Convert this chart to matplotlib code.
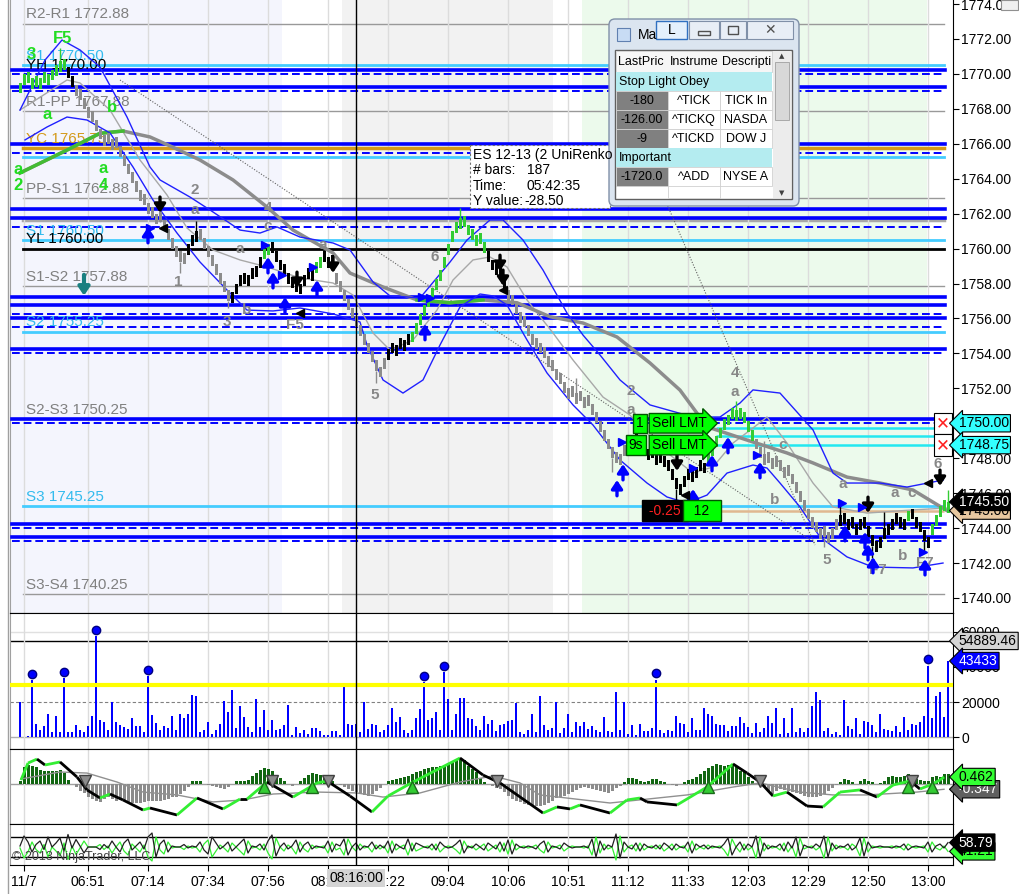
import numpy as np
import matplotlib.pyplot as plt
from matplotlib.collections import LineCollection
from matplotlib.patches import Rectangle, FancyBboxPatch

plt.rcParams['font.family'] = ['Liberation Sans', 'DejaVu Sans']

W, H = 1019, 894

# ---- price bars (UniRenko closes, one per bar) ----
closes = [
    1769.5, 1770.0, 1769.5, 1769.75, 1769.25, 1769.75, 1769.5, 1770.0, 1770.25, 1770.5,
    1770.75, 1770.25, 1769.75, 1769.25, 1768.75, 1768.5, 1768.0, 1767.5, 1767.25, 1766.75,
    1766.25, 1766.5, 1766.0, 1766.25, 1765.75, 1765.25, 1764.75, 1764.25, 1763.75, 1763.25,
    1762.75, 1762.5, 1762.0, 1761.75, 1762.0, 1761.5, 1761.0, 1760.5, 1760.0, 1759.5,
    1759.25, 1759.75, 1760.25, 1760.75, 1761.0, 1760.5, 1760.0, 1759.5, 1759.0, 1758.5,
    1758.0, 1757.5, 1757.0, 1757.5, 1758.0, 1758.5, 1758.0, 1758.5, 1758.25, 1759.0,
    1759.5, 1760.0, 1760.25, 1759.75, 1759.25, 1758.75, 1758.5, 1758.0, 1757.75, 1757.5,
    1758.0, 1758.5, 1758.25, 1758.75, 1759.25, 1759.5, 1759.25, 1759.5, 1759.0, 1758.0,
    1757.5, 1757.0, 1756.5, 1756.0, 1755.5, 1755.0, 1754.5, 1754.0, 1753.5, 1753.0,
    1753.25, 1753.75, 1754.25, 1754.0, 1754.5, 1754.25, 1754.75, 1754.5, 1755.25, 1755.75,
    1756.25, 1756.75, 1757.25, 1757.75, 1758.25, 1758.75, 1759.5, 1760.25, 1761.0, 1761.5,
    1761.75, 1761.25, 1760.75, 1760.5, 1760.75, 1760.25, 1759.75, 1759.25, 1758.75, 1758.5,
    1758.25, 1757.75, 1757.0, 1756.75, 1756.25, 1755.75, 1755.5, 1755.0, 1754.5, 1754.25,
    1754.0, 1753.75, 1753.25, 1753.0, 1752.5, 1752.25, 1751.75, 1752.0, 1751.5, 1751.75,
    1751.25, 1751.5, 1751.0, 1750.5, 1750.0, 1749.5, 1749.0, 1748.5, 1748.0, 1747.75,
    1748.25, 1748.75, 1749.0, 1749.25, 1748.75, 1748.5, 1748.25, 1748.5, 1748.0, 1748.25,
    1747.75, 1747.5, 1747.25, 1746.75, 1746.25, 1746.5, 1747.0, 1746.75, 1747.25, 1747.5,
    1747.25, 1747.75, 1748.25, 1748.75, 1749.25, 1749.75, 1750.25, 1750.5, 1750.25, 1750.75,
    1750.25, 1750.0, 1749.5, 1749.0, 1748.5, 1748.0, 1748.25, 1747.75, 1748.0, 1747.5,
    1747.25, 1747.5, 1747.0, 1746.5, 1746.0, 1745.5, 1745.0, 1744.5, 1744.0, 1743.75,
    1744.0, 1743.5, 1743.75, 1744.0, 1744.5, 1744.75, 1744.25, 1744.5, 1744.0, 1744.25,
    1744.5, 1744.0, 1743.5, 1743.0, 1743.25, 1743.5, 1744.0, 1744.25, 1744.5, 1744.25,
    1744.0, 1744.5, 1745.0, 1744.5, 1744.0, 1743.75, 1743.25, 1743.5, 1744.25, 1744.75,
    1745.25, 1745.0, 1745.5,
]
# g = trend up (green), k = counter trend (black), s = trend down (gray)
bar_kind = ('g' * 12 + 'k' * 2 + 's' * 28 + 'k' * 3 + 's' * 8 + 'k' * 8 + 'g' * 2
            + 'k' * 11 + 'g' * 2 + 'k' * 3 + 's' * 13 + 'k' * 6 + 'g' * 19 + 'k' * 5
            + 's' * 32 + 'k' * 18 + 'g' * 12 + 's' * 21 + 'k' * 17 + 'g' + 'k' * 5 + 'g' * 5)
wicks = [(10, 1771.5), (40, 1758.6), (52, 1756.6), (89, 1752.3), (110, 1762.3),
         (164, 1745.6), (179, 1751.3), (201, 1742.9), (213, 1742.3), (226, 1742.6),
         (232, 1746.2), (35, 1762.6), (44, 1761.6), (120, 1759.6), (139, 1752.6),
         (148, 1747.2), (186, 1749.0), (205, 1745.6), (216, 1744.9)]

volume = [
    19800, 0, 800, 32400, 7600, 3800, 6100, 13300, 2700, 11800,
    3000, 33900, 2700, 3000, 7000, 4200, 2700, 6500, 11800, 57500,
    9900, 8800, 4200, 20200, 8800, 6900, 5700, 4600, 10700, 6500,
    6500, 3000, 35000, 12600, 8000, 4200, 6500, 5000, 12200, 3800,
    13300, 10700, 13300, 24000, 23200, 2700, 3800, 8800, 1900, 3800,
    7600, 20600, 14500, 26700, 5000, 17500, 11400, 5700, 3000, 21700,
    5700, 15200, 4200, 9900, 3800, 4600, 6900, 18300, 1100, 5700,
    2300, 3800, 1900, 5000, 5000, 3400, 1100, 1100, 3400, 3400,
    1100, 28600, 7200, 6900, 7600, 2700, 19800, 4600, 7200, 6900,
    2700, 3800, 6900, 16800, 8800, 11400, 4200, 2300, 4200, 10700,
    16000, 31600, 9900, 10700, 14500, 4200, 37300, 21700, 3800, 13300,
    22500, 22500, 11000, 10300, 6500, 4200, 12200, 7600, 9500, 3400,
    6900,
    7200, 9100, 9500, 19400, 3000, 1900, 3800, 13300, 3000, 23600,
    6900, 4200, 5300, 19800, 2300, 5000, 13300, 3000, 8800, 6500,
    8800, 4600, 6500, 3800, 2700, 11400, 3400, 2700, 25900, 3800,
    19800, 1500, 6900, 1100, 7600, 3400, 3400, 5300, 32800, 4200,
    2300, 4200, 3400, 12200, 8000, 7200, 3000, 11000, 4200, 4200,
    16800, 13300, 12200, 7600, 6900, 6900, 3400, 6500, 6500, 11400,
    8000, 5700, 2300, 8000, 3000, 5000, 12200, 8000, 16800, 1900,
    10700, 2300, 16800, 2700, 5000, 3000, 5000, 17500, 25900, 21000,
    3400, 5000, 1500, 3000, 1100, 21300, 6100, 4600, 11000, 1900,
    9100, 8400, 6900, 2700, 13300, 4600, 3800, 3400, 6500, 3000,
    11400, 4200, 7600, 6900, 8800, 11800, 40800, 10700, 23600, 25900,
    11400, 43433,
]
vol_spikes = [3, 11, 19, 32, 101, 106, 159, 227]

macd_hist = [
    0.22, 1.10, 1.27, 1.21, 1.10, 0.92, 0.83, 0.83, 0.83, 0.83,
    0.92, 0.70, 0.26, 0.0, -0.22, -0.48, -0.61, -0.83, -0.99, -1.14,
    -1.21, -0.99, -0.88, -0.99, -1.10, -1.05, -1.10, -1.21, -1.27, -1.27,
    -1.27, -1.21, -1.10, -1.10, -1.10, -1.10, -1.05, -0.99, -0.88, -0.83,
    -0.66, -0.44, -0.18, 0.18, 0.18, 0.18, 0.0, -0.07, -0.13, -0.18,
    -0.26, -0.35, -0.22, 0.0, 0.22, 0.22, 0.18, 0.26, 0.55, 0.70,
    0.92, 1.05, 0.99, 0.83, 0.55, 0.39, 0.22, 0.0, -0.11, 0.0,
    0.22, 0.39, 0.61, 0.70, 0.66, 0.61, 0.44, 0.33, 0.18, 0.0,
    -0.07, -0.22, -0.33, -0.44, -0.55, -0.61, -0.70, -0.77, -0.66, -0.48,
    -0.26, 0.0, 0.18, 0.26, 0.31, 0.39, 0.44, 0.55, 0.66, 0.79,
    0.88, 0.99, 1.05, 1.10, 1.14, 1.21, 1.27, 1.36, 1.49, 1.58,
    1.71, 1.58, 1.21, 0.99, 0.77, 0.39, 0.11, 0.0, -0.11, -0.26,
    -0.30, -0.55, -0.77, -0.99, -1.10, -1.21, -1.32, -1.36, -1.43, -1.43,
    -1.43, -1.36, -1.27, -1.10, -0.92, -0.83, -0.77, -0.66, -0.55, -0.39,
    -0.26, -0.22, -0.26, -0.33, -0.39, -0.48, -0.55, -0.61, -0.48, -0.26,
    -0.11, 0.11, 0.39, 0.39, 0.33, 0.18, 0.11, 0.22, 0.33, 0.33,
    0.22, 0.11, 0.0, -0.07, -0.11, 0.0, 0.11, 0.26, 0.33, 0.44,
    0.66, 0.88, 1.05, 1.21, 1.32, 1.27, 1.21, 1.27, 1.32, 1.10,
    0.88, 0.77, 0.48, 0.22, 0.0, -0.11, -0.22, -0.48, -0.66, -0.44,
    -0.33, -0.39, -0.48, -0.55, -0.61, -0.66, -0.77, -0.83, -0.88, -0.83,
    -0.77, -0.66, -0.48, -0.26, -0.07, 0.11, 0.33, 0.26, 0.11, 0.0,
    0.22, 0.33, 0.22, 0.11, 0.0, 0.07, 0.22, 0.44, 0.55, 0.48,
    0.44, 0.55, 0.66, 0.55, 0.33, 0.26, 0.22, 0.22, 0.44, 0.55,
    0.48, 0.66, 0.66,
]
# macd line / signal line read at points (bar index, value)
macd_x = [0.25, 2, 4.25, 6.25, 10, 14.25, 16.75, 20, 22.5, 25.75, 30.75, 32.5, 39.25,
          44.25, 50.75, 55, 56.75, 61.75, 68.25, 74.25, 76.75, 82.5, 88, 92, 98.25,
          110, 115.75, 120, 130.75, 134.25, 137.5, 140, 147.5, 151.75, 155, 156.75,
          164.25, 171.75, 178.25, 181.75, 185, 188.25, 191.75, 196.75, 200.75, 205,
          210, 214.25, 218.25, 222.5, 225, 227.5, 230, 231]
macd_v = [0.26, 1.38, 1.64, 1.25, 1.45, 0.46, -0.39, -0.92, -0.66, -1.05, -1.71, -1.58,
          -2.04, -0.92, -1.64, -0.99, -0.99, 0.13, -0.86, 0.07, 0.20, -0.79, -1.84,
          -0.79, 0.13, 1.71, 0.59, 0.07, -1.91, -1.51, -1.64, -1.38, -1.91, -1.05,
          -0.92, -1.18, -1.38, -0.20, 1.32, 0.72, 0.13, -0.79, -0.53, -1.45, -1.51,
          -0.53, -0.39, -0.86, -0.07, 0.20, -0.33, -0.07, 0.26, 0.462]
sig_x = [0.25, 10, 16.75, 24.25, 30.75, 39.25, 48.25, 55.75, 63.25, 74.25, 84.25, 90.75,
         100, 110, 118.25, 125, 130, 147.5, 166.75, 178.25, 185, 195, 203.25, 211.75,
         224.25, 231]
sig_v = [0.33, 0.79, 0.72, 0.13, -0.53, -0.72, -1.18, -1.05, -0.66, -0.53, -0.59, -0.86,
         -0.59, 0.13, 0.53, 0.07, -0.72, -1.25, -0.72, -0.20, 0.07, -0.53, -0.72, -0.72,
         -0.53, -0.347]
cross_dn = [16.25, 63, 77, 119.25, 185, 223]
cross_up = [61, 73, 98, 172, 222, 228]

osc = [
    52, 72, 60, 40, 55, 62, 45, 70, 50, 58, 68, 42, 75, 48, 65, 52, 38, 50, 50, 50,
    45, 55, 48, 62, 50, 40, 58, 66, 44, 52, 60, 46, 70, 78, 30, 56, 64, 40, 52, 50,
    50, 55, 48, 52, 50, 60, 44, 36, 70, 58, 46, 52, 60, 42, 50, 58, 66, 38, 52, 50,
    56, 44, 62, 74, 32, 50, 58, 46, 52, 64, 40, 54, 60, 46, 52, 50, 48, 62, 40, 56,
    52, 66, 34, 50, 58, 44, 52, 50, 60, 46, 54, 48, 62, 38, 56, 50, 46, 66, 42, 58,
    54, 50, 48, 56, 44, 60, 52, 48, 50, 56, 64, 38, 52, 48, 56, 50, 44, 58, 52, 46,
    60, 42, 64, 36, 56, 50, 48, 52, 50, 46, 56, 62, 40, 52, 50, 46, 58, 52, 48, 50,
    50, 52, 48, 66, 30, 62, 44, 54, 50, 76, 28, 60, 50, 46, 58, 42, 56, 50, 48, 54,
    46, 58, 52, 44, 56, 50, 48, 60, 38, 56, 50, 54, 46, 52, 50, 48, 56, 68, 34, 50,
    60, 44, 56, 50, 72, 30, 58, 46, 52, 50, 56, 42, 60, 48, 70, 32, 54, 50, 48, 56,
    50, 72, 30, 58, 46, 52, 50, 56, 44, 50, 68, 32, 60, 48, 50, 52, 50, 50, 48, 52,
    50, 56, 44, 50, 52, 50, 48, 60, 40, 52, 56, 48, 58.79,
]

# ---- indicator lines (bar index, price) ----
ub_x = [0, 6.25, 10.5, 15, 20, 26.75, 32.5, 35, 42.5, 47.5, 55, 60, 64.25, 70, 78.25,
        82.5, 88.25, 92.5, 96.75, 100, 107.5, 111.75, 117.5, 120.75, 125.75, 130.75,
        136.75, 140.75, 145, 150, 157.5, 168.25, 175, 180, 183.25, 190, 198.25, 203.25,
        206.75, 215, 221.75, 230.75]
ub_p = [1767.93, 1770.79, 1771.94, 1771.37, 1770.39, 1767.53, 1764.67, 1763.93, 1762.95,
        1762.21, 1761.06, 1760.89, 1761.24, 1760.66, 1760.32, 1759.92, 1758.09, 1757.29,
        1757.23, 1757.17, 1759.23, 1760.49, 1761.64, 1761.64, 1760.49, 1758.77, 1756.31,
        1755.05, 1753.91, 1752.48, 1751.05, 1750.36, 1750.36, 1751.16, 1751.91, 1751.73,
        1749.62, 1747.15, 1746.58, 1746.58, 1746.35, 1746.75]
lb_x = [1.25, 6.75, 11.75, 16.75, 22.5, 28.25, 33.25, 39.25, 45, 51.75, 56.75, 63.25, 70,
        78.25, 85, 86.75, 90.75, 95.75, 100.75, 105, 110, 115, 118.25, 121.75, 126.75,
        131.75, 138.25, 143.25, 150, 156.75, 161.75, 166.75, 171.75, 176.75, 183.25,
        186.75, 190, 195, 200, 206.75, 213.25, 223.25, 230.75]
lb_p = [1766.22, 1766.96, 1767.53, 1767.36, 1766.62, 1764.67, 1762.78, 1760.89, 1759.23,
        1757.63, 1756.48, 1756.43, 1756.6, 1756.26, 1755.8, 1754.48, 1752.48, 1751.73,
        1752.48, 1754.48, 1756.66, 1757.4, 1757.29, 1756.77, 1754.77, 1752.88, 1751.05,
        1749.9, 1747.9, 1746.58, 1745.78, 1745.44, 1745.89, 1747.15, 1747.61, 1747.44,
        1746.58, 1745.21, 1743.49, 1742.35, 1741.77, 1741.72, 1742.0]
slow_x = [0, 11.75, 20, 25.75, 32.5, 38.25, 45, 53.25, 61.75, 68.25, 78.25, 82.5, 90.75,
          99.25, 107.5, 115.75, 124.25, 132.5, 140.75, 149.25, 157.5, 165, 171.75,
          181.75, 191.75, 198.25, 206.75, 215, 223.25, 231.75]
slow_p = [1764.33, 1765.64, 1766.6, 1766.73, 1766.39, 1765.8, 1765.07, 1763.93, 1762.38,
          1761.06, 1759.75, 1758.6, 1757.8, 1757.06, 1756.9, 1757.06, 1756.9, 1756.1,
          1755.74, 1754.94, 1753.45, 1751.9, 1749.8, 1749.04, 1748.3, 1747.73, 1746.92,
          1746.58, 1746.18, 1745.0]
fast_x = [0, 11.75, 15, 22.5, 30, 36.75, 41.75, 48.25, 55, 61.75, 70, 78.25, 83.25, 88.25,
          92.5, 98.25, 104.25, 108.25, 113.25, 117.5, 121.75, 126.75, 133.25, 138.25,
          145.75, 152.5, 160, 168.25, 173.25, 178.25, 183.25, 186.75, 191.75, 198.25,
          203.25, 211.75, 223.25, 231.75]
fast_p = [1767.93, 1769.65, 1769.48, 1767.93, 1765.07, 1763.07, 1761.18, 1759.92, 1759.35,
          1758.95, 1758.32, 1758.03, 1757.34, 1755.17, 1754.19, 1754.77, 1756.48, 1758.2,
          1759.35, 1759.52, 1758.95, 1757.06, 1755.17, 1753.62, 1751.5, 1750.47, 1748.64,
          1747.15, 1747.5, 1748.87, 1749.73, 1750.36, 1748.87, 1746.58, 1745.21, 1744.86,
          1745.04, 1745.15]
trend_lines = [((25, 1769.65), (198.75, 1743.15)), ((157.5, 1764.78), (198.75, 1743.03))]

thick_blue = [1770.25, 1769.25, 1766.0, 1762.25, 1761.75, 1757.25, 1756.75, 1756.0,
              1754.25, 1750.25, 1744.25, 1743.5]
dashed_blue = [1770.0, 1769.0, 1765.5, 1761.25, 1756.25, 1755.5, 1754.0, 1750.0,
               1744.0, 1743.25]
cyan_levels = [1770.5, 1765.25, 1760.5, 1755.25, 1745.25]
order_levels = [1749.75, 1749.25, 1748.75]
pivot_gray = [1772.88, 1767.88, 1762.88, 1757.88, 1750.25, 1740.25]

pivot_labels = [
    ('R2-R1 1772.88', 1772.88, 'gray'), ('S1 1770.50', 1770.5, 'cyan'),
    ('YH 1770.00', 1770.0, 'black'), ('R1-PP 1767.88', 1767.88, 'gray'),
    ('YC 1765.75', 1765.75, 'gold'), ('PP-S1 1762.88', 1762.88, 'gray'),
    ('S1 1760.50', 1760.5, 'cyan'), ('YL 1760.00', 1760.0, 'black'),
    ('S1-S2 1757.88', 1757.88, 'gray'), ('S2 1755.25', 1755.25, 'cyan'),
    ('S2-S3 1750.25', 1750.25, 'gray'), ('S3 1745.25', 1745.25, 'cyan'),
    ('S3-S4 1740.25', 1740.25, 'gray'),
]
wave_gray = [('2', 43.75, 1763.35), ('a', 43.75, 1762.2), ('4', 62, 1762.3), ('c', 62, 1761.3),
             ('a', 55, 1760.0), ('a', 75.75, 1760.2), ('1', 39.5, 1758.1), ('3', 51.75, 1755.8),
             ('b', 56.75, 1756.5), ('F5', 68.75, 1755.6), ('5', 88.75, 1751.6),
             ('6', 103.75, 1759.5), ('2', 152.75, 1751.85), ('a', 152.75, 1750.76),
             ('4', 178.75, 1752.9), ('a', 178.75, 1751.8), ('c', 190.75, 1748.75),
             ('b', 188.75, 1745.6), ('5', 201.75, 1742.2), ('a', 205.75, 1746.5),
             ('F7', 214.5, 1741.6), ('b', 220.75, 1742.4), ('a', 218.75, 1746.0),
             ('c', 223, 1746.0), ('F7', 226.25, 1742.0), ('6', 229.5, 1747.67)]
wave_green = [('F5', 10.75, 1772.05), ('3', 2.75, 1771.1), ('b', 23, 1768.05),
              ('a', 6.75, 1767.65), ('a', -0.5, 1764.5), ('2', -0.5, 1763.6),
              ('a', 20.75, 1764.6), ('4', 20.75, 1763.6)]

up_arrows = [(32, 1760.78), (62, 1759.06), (63.25, 1758.2), (66.25, 1756.77), (74.25, 1757.74),
             (101.25, 1755.23), (149.25, 1746.3), (150.75, 1747.21), (168.25, 1745.78),
             (173, 1747.73), (177, 1748.76), (185, 1747.33), (206.25, 1743.72),
             (211.25, 1743.32), (212, 1742.63), (213.25, 1741.89), (226.25, 1741.77)]
down_arrows = [(35, 1762.5), (69.25, 1758.2), (78.25, 1759.06), (120, 1759.17),
               (120.75, 1758.32), (164.25, 1747.73), (212, 1745.32), (230, 1746.87)]
right_tri = [(61.25, 1760.2), (65.5, 1758.49), (73.25, 1758.95), (100.5, 1757.23),
             (150.5, 1748.93), (168.25, 1747.44), (184.25, 1748.18), (205.5, 1745.44),
             (210.5, 1745.21), (225.75, 1742.63), (32.5, 1761.18), (102.5, 1757.17)]
left_tri = [(35.75, 1761.18), (70, 1756.31), (120.75, 1757.63), (166.25, 1745.9),
            (227, 1746.6)]

tick_idx = [1, 17, 32, 47, 62, 77, 92, 107, 122, 137, 152, 167, 182, 197, 212, 227]
tick_lbl = ['11/7', '06:51', '07:14', '07:34', '07:56', '08:06', '08:22', '09:04',
            '10:06', '10:51', '11:12', '11:33', '12:03', '12:29', '12:50', '13:00']
sessions = [(-2.5, 65.5, '#f4f5fd'), (80.5, 133.25, '#f2f2f2'), (140.5, 226.75, '#ecfaec')]
cursor_i = 84

colmap = {'g': '#33cc33', 'k': 'black', 's': '#8c8c8c'}
txtcol = {'gray': '#808080', 'cyan': '#33bbee', 'black': 'black', 'gold': '#d49a1a'}

fig = plt.figure(figsize=(W / 100, H / 100), dpi=100)


def panel(top, bottom):
    a = fig.add_axes([10 / W, 1 - bottom / H, (953 - 10) / W, (bottom - top) / H])
    a.set_xlim(-2.5, 233.25)
    a.set_xticks(tick_idx)
    a.grid(axis='x', color='#dcdcdc', lw=1, zorder=0)
    a.tick_params(axis='x', bottom=False, labelbottom=False)
    a.spines['left'].set_color('#a0a0a0')
    a.yaxis.tick_right()
    a.tick_params(axis='y', labelsize=10, length=4, pad=2)
    return a


ax = panel(0, 613)
axv = panel(613, 749)
axm = panel(749, 824)
axo = panel(824, 865)

# ---------------- price panel ----------------
ax.set_ylim(1739.14, 1774.23)
ax.spines['top'].set_visible(False)
ax.set_yticks(np.arange(1740, 1775, 2))
ax.set_yticklabels([f'{v:.2f}' for v in np.arange(1740, 1775, 2)])
for x0, x1, c in sessions:
    ax.axvspan(x0, x1, color=c, zorder=0, lw=0)

for p in pivot_gray:
    ax.axhline(p, xmin=0.014, xmax=0.99, color='#999999', lw=1, zorder=1)
ax.axhline(1761.625, xmin=0.014, xmax=0.99, color='#a8a8a8', lw=2.5, zorder=1)
for p in cyan_levels:
    ax.axhline(p, xmin=0.014, xmax=0.99, color='#44ccff', lw=2, zorder=2)
ax.axhline(1765.75, xmin=0.014, xmax=0.99, color='#d49a1a', lw=2.5, zorder=2)
ax.axhline(1760.0, xmin=0.014, xmax=0.99, color='black', lw=2, zorder=2)
for p in thick_blue:
    ax.axhline(p, xmin=0.002, xmax=0.992, color='#0000ff', lw=2.6, zorder=3)
for p in dashed_blue:
    ax.axhline(p, xmin=0.002, xmax=0.992, color='#0000ff', lw=1.4, ls=(0, (4, 2)), zorder=3)
for p in order_levels:
    ax.hlines(p, 174, 231, color='#22e8f0', lw=1.8, zorder=3)
ax.hlines(1745.0, 174, 231, color='#e0b890', lw=1.8, zorder=3)

for s, p, c in pivot_labels:
    ax.text(1.5, p + 0.12, s, color=txtcol[c], fontsize=11, va='bottom', zorder=4)

for (x0, y0), (x1, y1) in trend_lines:
    ax.plot([x0, x1], [y0, y1], color='#606060', lw=0.8, ls=(0, (1, 1.5)), zorder=4)
ax.plot(fast_x, fast_p, color='#a8a8a8', lw=1, zorder=4)
ax.plot(slow_x, slow_p, color='#8c8c8c', lw=2.5, zorder=4)
ax.plot(slow_x[:4], slow_p[:4], color='#44bb33', lw=2.5, zorder=4)
ax.plot(slow_x[13:16], slow_p[13:16], color='#44bb33', lw=2.5, zorder=4)
ax.plot(ub_x, ub_p, color='#2020ff', lw=1, zorder=4)
ax.plot(lb_x, lb_p, color='#2020ff', lw=1, zorder=4)

idx = np.arange(len(closes))
cl = np.array(closes)
prev = np.r_[cl[0] - 0.25, cl[:-1]]
body = 0.62
bottoms = np.where(cl >= prev, cl - body, cl)
cols = [colmap[c] for c in bar_kind]
for i, ext in wicks:
    ax.vlines(i, min(ext, cl[i]), max(ext, cl[i]), color=cols[i], lw=1, zorder=5)
ax.bar(idx, body, bottom=bottoms, width=0.75, color=cols, antialiased=False, zorder=6)

for s, i, p in wave_gray:
    ax.text(i, p, s, color='#888888', fontsize=11, fontweight='bold', ha='center', va='center', zorder=7)
for s, i, p in wave_green:
    ax.text(i, p, s, color='#22dd22', fontsize=12, fontweight='bold', ha='center', va='center', zorder=7)

arr = dict(arrowstyle='-|>,head_width=0.3,head_length=0.45', lw=2.4, shrinkA=0, shrinkB=0,
           mutation_scale=11)
for i, p in up_arrows:
    ax.annotate('', xy=(i, p + 0.45), xytext=(i, p - 0.45), zorder=8,
                arrowprops=dict(arr, color='#0000ff'))
for i, p in down_arrows:
    ax.annotate('', xy=(i, p - 0.45), xytext=(i, p + 0.45), zorder=8,
                arrowprops=dict(arr, color='black'))
ax.annotate('', xy=(16, 1757.3), xytext=(16, 1758.5), zorder=8,
            arrowprops=dict(arr, color='#1a8080', lw=3))
ax.plot(*zip(*right_tri), ls='none', marker='>', ms=6, color='#0000ff', zorder=8)
ax.plot(*zip(*left_tri), ls='none', marker='<', ms=6, color='black', zorder=8)

# orders / position
box = dict(boxstyle='square,pad=0.2', fc='#00ff00', ec='#005500', lw=1)
arrbox = dict(boxstyle='rarrow,pad=0.2', fc='#00ff00', ec='#005500', lw=1)
ax.text(155, 1750.0, '1', fontsize=10, ha='center', va='center', bbox=box, zorder=9)
ax.text(158, 1750.0, 'Sell LMT', fontsize=10, ha='left', va='center', bbox=arrbox, zorder=9)
ax.text(154, 1748.75, '9s', fontsize=10, ha='center', va='center', bbox=box, zorder=9)
ax.text(158, 1748.75, 'Sell LMT', fontsize=10, ha='left', va='center', bbox=arrbox, zorder=9)
ax.text(161.25, 1745.0, ' -0.25 ', fontsize=10, color='#ff2020', ha='center', va='center',
        bbox=dict(boxstyle='square,pad=0.25', fc='black', ec='black'), zorder=9)
ax.text(170.5, 1745.0, '  12  ', fontsize=10, ha='center', va='center',
        bbox=dict(boxstyle='square,pad=0.25', fc='#00ff00', ec='#005500'), zorder=9)
for p in [1750.0, 1748.75]:
    ax.text(230.75, p, '\u2715', family=['DejaVu Sans'], fontsize=12, color='#ff2020',
            ha='center', va='center', zorder=9,
            bbox=dict(boxstyle='square,pad=0.1', fc='white', ec='black', lw=0.8))


def tag(a, y, s, fc, tc):
    a.text(1.006, y, s, transform=a.get_yaxis_transform(), ha='left', va='center',
           fontsize=10, color=tc, zorder=30, clip_on=False,
           bbox=dict(boxstyle='larrow,pad=0.12', fc=fc, ec='black', lw=0.8))


tag(ax, 1750.0, '1750.00', '#33ffff', 'black')
tag(ax, 1748.75, '1748.75', '#33ffff', 'black')
tag(ax, 1745.0, '1745.00', '#e8c8a0', 'black')
tag(ax, 1745.5, '1745.50', 'black', 'white')

# ---------------- volume panel ----------------
axv.set_ylim(-6857, 70857)
axv.set_yticks([0, 20000, 40000, 60000])
axv.set_yticklabels(['0', '20000', '40000', '60000'])
axv.spines['top'].set_color('black')
axv.axhline(60000, color='#e0e0e0', lw=1, zorder=1)
axv.axhline(0, color='#b0b0b0', lw=1, zorder=1)
axv.axhline(20000, color='#808080', lw=0.8, ls=(0, (3, 2)), zorder=1)
axv.axhline(54889.46, color='black', lw=1, zorder=1)
axv.bar(idx, volume, width=0.38, color='#0000ff', zorder=3)
axv.axhline(30000, color='#ffff00', lw=3, zorder=4)
axv.plot(vol_spikes, [volume[i] + 3500 for i in vol_spikes], ls='none', marker='o',
         ms=6, color='#0000ff', mec='#000080', zorder=5)
tag(axv, 54889.46, '54889.46', '#d4d4d4', 'black')
tag(axv, 43433, '43433', '#0000ff', 'white')

# ---------------- MACD panel ----------------
axm.set_ylim(-2.632, 2.303)
axm.set_yticks([])
axm.axhline(0, color='#a0a0a0', lw=1, zorder=1)
hist = np.array(macd_hist)
axm.bar(idx, hist, width=0.75, color=np.where(hist >= 0, '#116611', '#8c8c8c'), zorder=2)
axm.plot(sig_x, sig_v, color='#909090', lw=1, zorder=3)
pts = np.column_stack([macd_x, macd_v])
segs = np.stack([pts[:-1], pts[1:]], axis=1)
seg_col = ['#33ee33' if b > a else 'black' for a, b in zip(macd_v[:-1], macd_v[1:])]
axm.add_collection(LineCollection(segs, colors=seg_col, lw=2, zorder=4))
axm.plot(cross_dn, [0.2] * len(cross_dn), ls='none', marker='v', ms=9, color='#8c8c8c',
         mec='#404040', zorder=5)
axm.plot(cross_up, [-0.22] * len(cross_up), ls='none', marker='^', ms=9, color='#33cc33',
         mec='#1a6a1a', zorder=5)
tag(axm, -0.347, '-0.347', '#606060', 'white')
tag(axm, 0.462, '0.462', '#33ff33', 'black')

# ---------------- oscillator panel ----------------
axo.set_ylim(14, 96)
axo.set_yticks([])
axo.axhline(70, color='black', lw=1, zorder=1)
axo.axhline(30, color='black', lw=1, zorder=1)
o = np.array(osc)
axo.plot(idx, 100 - o, color='#33ee33', lw=0.9, zorder=3)
axo.plot(idx, o, color='#202020', lw=0.9, zorder=4)
axo.text(0.002, 0.12, '\u00a9 2013 NinjaTrader, LLC', transform=axo.transAxes, fontsize=9,
         color='#404040', zorder=6)
tag(axo, 100 - o[-1], f'{100 - o[-1]:.2f}', '#33ff33', 'black')
tag(axo, o[-1], f'{o[-1]:.2f}', 'black', 'white')
axo.tick_params(axis='x', bottom=True, labelbottom=True, length=4, labelsize=10, pad=3)
axo.set_xticklabels(tick_lbl)
axo.text(cursor_i, -0.32, '08:16:00', transform=axo.get_xaxis_transform(), fontsize=10,
         ha='center', va='center', zorder=20, clip_on=False,
         bbox=dict(boxstyle='square,pad=0.15', fc='#d4d4d4', ec='none'))

for a in (ax, axv, axm, axo):
    a.axvline(cursor_i, color='black', lw=1, zorder=15)

# ---------------- overlays: tooltip + market analyzer ----------------
ov = fig.add_axes([0, 0, 1, 1], zorder=20)
ov.set_xlim(0, W)
ov.set_ylim(H, 0)
ov.axis('off')
ov.plot([8.5, 8.5], [0, 894], color='#a0a0a0', lw=1)

ov.add_patch(Rectangle((470, 145), 140, 63, fc='white', ec='#707070', lw=0.8, ls=(0, (2, 2))))
ov.text(473, 155, 'ES 12-13 (2 UniRenko', fontsize=10, va='center')
for yy, k, v in [(170, '# bars:', '187'), (186, 'Time:', '05:42:35'), (201, 'Y value:', '-28.50')]:
    ov.text(473, yy, k, fontsize=10, va='center')
    ov.text(527 if k != 'Y value:' else 524, yy, v, fontsize=10, va='center')

ov.add_patch(FancyBboxPatch((609, 19), 190, 187, boxstyle='round,pad=0,rounding_size=6',
                            fc='#dbe5f0', ec='#8090a8', lw=1))
ov.add_patch(Rectangle((617, 28), 13, 13, fc='#c8dcf4', ec='#6080b0', lw=0.8))
ov.text(638, 35, 'Ma', fontsize=10, va='center')
ov.add_patch(Rectangle((656, 21), 31, 18, fc='#e4f0fc', ec='#3070c0', lw=1))
ov.text(671.5, 30, 'L', fontsize=10, ha='center', va='center')
ov.add_patch(Rectangle((689, 21), 30, 18, fc='#e8eef6', ec='#8090a8', lw=0.8))
ov.add_patch(Rectangle((698, 31), 12, 4, fc='none', ec='#505050', lw=1))
ov.add_patch(Rectangle((720, 21), 26, 18, fc='#e8eef6', ec='#8090a8', lw=0.8))
ov.add_patch(Rectangle((728, 26), 10, 8, fc='none', ec='#505050', lw=1))
ov.add_patch(Rectangle((747, 21), 46, 18, fc='#e8eef6', ec='#8090a8', lw=0.8))
ov.text(770, 30, '\u2715', family=['DejaVu Sans'], fontsize=10, color='#505050',
        ha='center', va='center')

ov.add_patch(Rectangle((615, 50), 177, 149, fc='white', ec='#606060', lw=1))
ov.add_patch(Rectangle((616, 51), 156, 21, fc='#f6f6f6', ec='#d0d0d0', lw=0.6))
for xx, s in [(618, 'LastPric'), (670, 'Instrume'), (722, 'Descripti')]:
    ov.text(xx, 62, s, fontsize=9, va='center')
rows = [('-180', '^TICK', 'TICK In'), ('-126.00', '^TICKQ', 'NASDA'), ('-9', '^TICKD', 'DOW J')]
ov.add_patch(Rectangle((616, 72), 156, 19, fc='#b4ecf0', ec='none'))
ov.text(619, 82, 'Stop Light Obey', fontsize=9, va='center')
for k, (a1, a2, a3) in enumerate(rows):
    y0 = 91 + k * 19
    ov.add_patch(Rectangle((616, y0), 52, 19, fc='#808080', ec='#d0d0d0', lw=0.6))
    ov.add_patch(Rectangle((668, y0), 52, 19, fc='white', ec='#d0d0d0', lw=0.6))
    ov.add_patch(Rectangle((720, y0), 52, 19, fc='white', ec='#d0d0d0', lw=0.6))
    ov.text(642, y0 + 10, a1, fontsize=9, ha='center', va='center')
    ov.text(694, y0 + 10, a2, fontsize=9, ha='center', va='center')
    ov.text(746, y0 + 10, a3, fontsize=9, ha='center', va='center')
ov.add_patch(Rectangle((616, 148), 156, 19, fc='#b4ecf0', ec='none'))
ov.text(619, 158, 'Important', fontsize=9, va='center')
ov.add_patch(Rectangle((616, 167), 52, 19, fc='#808080', ec='#d0d0d0', lw=0.6))
ov.add_patch(Rectangle((668, 167), 52, 19, fc='white', ec='#d0d0d0', lw=0.6))
ov.add_patch(Rectangle((720, 167), 52, 19, fc='white', ec='#d0d0d0', lw=0.6))
ov.text(642, 177, '-1720.0', fontsize=9, ha='center', va='center')
ov.text(694, 177, '^ADD', fontsize=9, ha='center', va='center')
ov.text(746, 177, 'NYSE A', fontsize=9, ha='center', va='center')
ov.plot([668, 668, 720, 720], [186, 198, 198, 186], color='#d0d0d0', lw=0.6)
ov.add_patch(Rectangle((773, 51), 18, 147, fc='#ececec', ec='none'))
ov.add_patch(Rectangle((775, 62), 14, 58, fc='#d8d8d8', ec='#a0a0a0', lw=0.6))
ov.text(782, 56, '\u25b2', family=['DejaVu Sans'], fontsize=5, ha='center', va='center', color='#404040')
ov.text(782, 193, '\u25bc', family=['DejaVu Sans'], fontsize=5, ha='center', va='center', color='#404040')

ov.add_patch(Rectangle((1001, 0), 17, 10, fc='#f0f0f0', ec='#909090', lw=0.8))

fig.savefig('out.png', dpi=100)
